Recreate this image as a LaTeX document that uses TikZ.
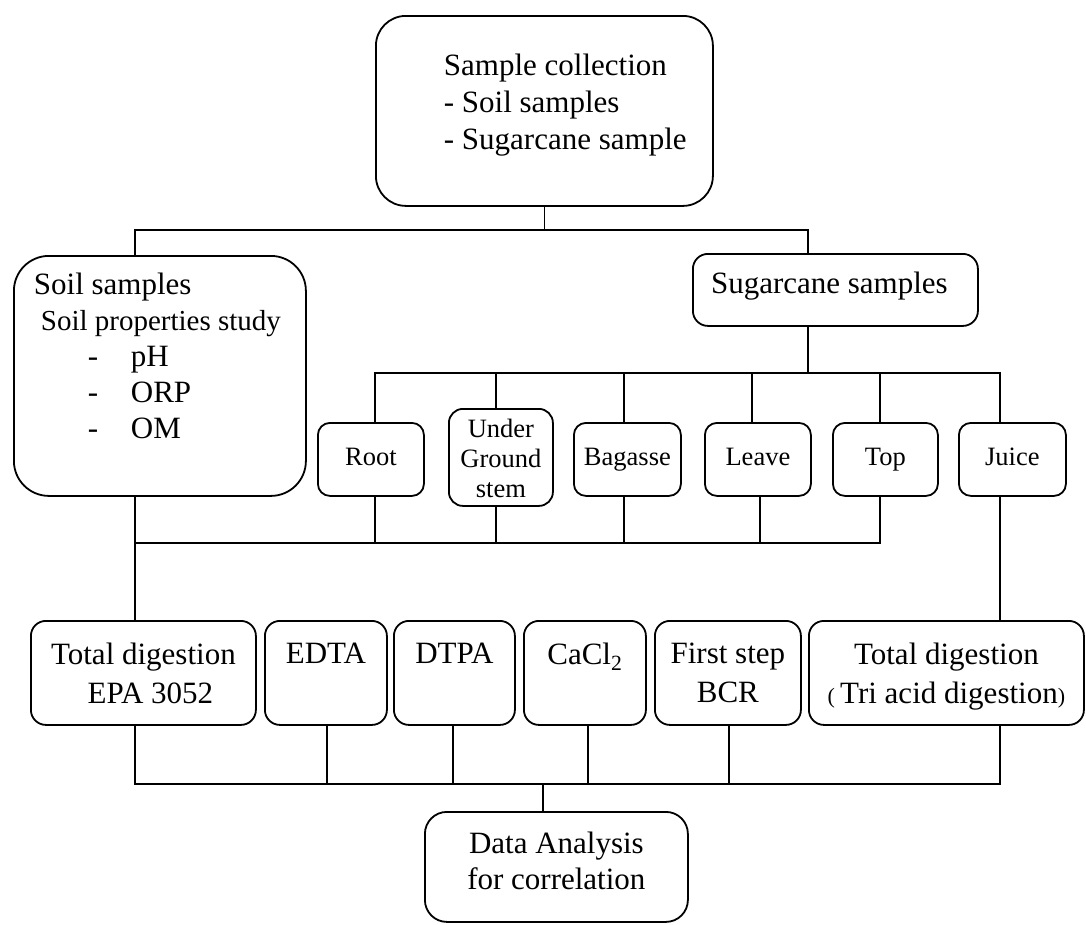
\documentclass[tikz,border=0pt]{standalone}
\usepackage{fontspec}
\setmainfont{Liberation Serif}
\newcommand{\bigf}{\fontsize{31}{36}\selectfont}
\newcommand{\smallf}{\fontsize{26.5}{30}\selectfont}
\newcommand{\boxtop}[3]{\begin{minipage}[c][#2][t]{#1}#3\end{minipage}}
\newcommand{\boxmid}[3]{\begin{minipage}[c][#2][c]{#1}\centering\smallf\strut #3\strut\end{minipage}}
\tikzset{
  rbox/.style={draw, line width=1.8pt, inner sep=0pt, anchor=north west, rounded corners=#1},
  rbox/.default=14pt,
  conn/.style={draw, line width=1.8pt, line cap=rect}
}
\begin{document}
\begin{tikzpicture}[x=1pt,y=-1pt]
\fill[white] (0,0) rectangle (1086,924);
\useasboundingbox (0,0) rectangle (1086,924);

% top box
\node[rbox=30pt] (coll) at (375,15) {\boxtop{337pt}{190pt}{\fontsize{31}{37}\selectfont\raggedright\leftskip=68pt\vspace*{38pt}Sample collection\\- Soil samples\\- Sugarcane sample}};

% soil
\node[rbox=35pt] (soil) at (13,255) {\boxtop{292pt}{240pt}{\bigf\raggedright\vspace*{17pt}\hspace*{20pt}Soil samples\\{\fontsize{29}{36}\selectfont\hspace*{27pt}Soil properties study}\\\hspace*{74pt}\makebox[43pt][l]{-}pH\\\hspace*{74pt}\makebox[43pt][l]{-}ORP\\\hspace*{74pt}\makebox[43pt][l]{-}OM}};

% sugarcane
\node[rbox=15pt] (sugar) at (692,253) {\boxtop{285pt}{72pt}{\bigf\centering\vspace*{18pt}Sugarcane samples\hspace*{12pt}}};

% parts
\node[rbox=12pt] (root) at (317,422) {\boxmid{106pt}{73pt}{Root}};
\node[rbox=14pt] (ug) at (448,408) {\boxtop{104pt}{97pt}{\smallf\centering\vspace*{10pt}Under\\Ground\\stem}};
\node[rbox=12pt] (bag) at (573,422) {\boxmid{107pt}{73pt}{Bagasse}};
\node[rbox=12pt] (leave) at (704,422) {\boxmid{106pt}{73pt}{Leave}};
\node[rbox=12pt] (tp) at (832,422) {\boxmid{105pt}{73pt}{Top}};
\node[rbox=12pt] (juice) at (958,422) {\boxmid{107pt}{73pt}{Juice}};

% methods
\node[rbox=15pt] (epa) at (30,620) {\boxtop{225pt}{104pt}{\fontsize{31}{39}\selectfont\centering\vspace*{22pt}Total digestion\\\hspace*{14pt}EPA 3052}};
\node[rbox=15pt] (edta) at (264,620) {\boxtop{122pt}{104pt}{\bigf\centering\vspace*{22pt}EDTA}};
\node[rbox=15pt] (dtpa) at (393,620) {\boxtop{121pt}{104pt}{\bigf\centering\vspace*{22pt}DTPA}};
\node[rbox=15pt] (cacl) at (523,620) {\boxtop{122pt}{104pt}{\bigf\centering\vspace*{22pt}CaCl\textsubscript{2}}};
\node[rbox=15pt] (bcr) at (654,620) {\boxtop{146pt}{104pt}{\fontsize{31}{39}\selectfont\centering\vspace*{22pt}First step\\BCR}};
\node[rbox=15pt] (tri) at (808,620) {\boxtop{275pt}{104pt}{\fontsize{31}{39}\selectfont\centering\vspace*{22pt}Total digestion\\{\fontsize{22}{39}\selectfont(}\,Tri acid digestion{\fontsize{22}{39}\selectfont)}}};

% data analysis
\node[rbox=22pt] (data) at (424,811) {\boxtop{263pt}{110pt}{\bigf\centering\vspace*{20pt}Data Analysis\\for correlation}};

% level 1 bus
\coordinate (b1l) at (135,230);
\coordinate (b1r) at (808,230);
\draw[conn] (coll.south) -- (coll.south |- b1l);
\draw[conn] (b1l) -- (b1r);
\draw[conn] (b1l) -- (b1l |- soil.north);
\draw[conn] (b1r) -- (b1r |- sugar.north);

% level 2 bus
\coordinate (b2s) at (808,373);
\draw[conn] (b2s |- sugar.south) -- (b2s);
\coordinate (j2root) at (375,373);
\coordinate (j2juice) at (1000,373);
\draw[conn] (j2root) -- (j2juice);
\foreach \xx/\nm in {375/root,496/ug,624/bag,752/leave,880/tp,1000/juice}{
  \coordinate (j2\nm) at (\xx,373);
  \draw[conn] (j2\nm) -- (j2\nm |- \nm.north);
}

% level 3 bus
\coordinate (j3s) at (135,543);
\coordinate (j3tp) at (880,543);
\draw[conn] (j3s) -- (j3tp);
\draw[conn] (soil.south -| j3s) -- (epa.north -| j3s);
\foreach \xx/\nm in {375/root,496/ug,624/bag,760/leave,880/tp}{
  \coordinate (j3\nm) at (\xx,543);
  \draw[conn] (\nm.south -| j3\nm) -- (j3\nm);
}
\draw[conn] (juice.south -| j2juice) -- (tri.north -| j2juice);

% level 4 bus
\coordinate (j4l) at (135,784);
\coordinate (j4r) at (1000,784);
\draw[conn] (j4l) -- (j4r);
\foreach \xx/\nm in {135/epa,327/edta,453/dtpa,588/cacl,729/bcr,1000/tri}{
  \coordinate (j4\nm) at (\xx,784);
  \draw[conn] (\nm.south -| j4\nm) -- (j4\nm);
}
\coordinate (j4d) at (543,784);
\draw[conn] (j4d) -- (data.north -| j4d);
\end{tikzpicture}
\end{document}
